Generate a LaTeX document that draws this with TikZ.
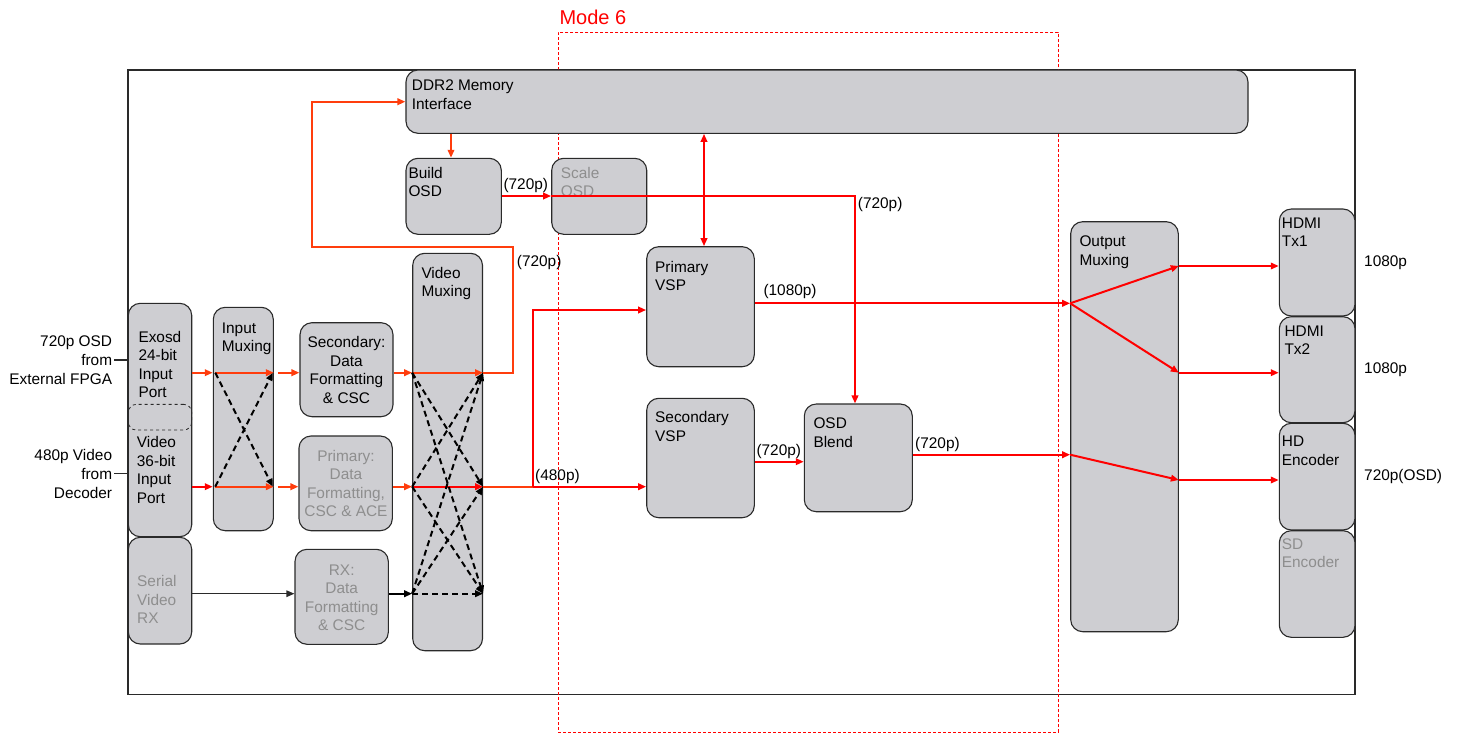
\documentclass[tikz,border=0pt]{standalone}
\usepackage{fontspec}
\setmainfont{Liberation Sans}
\usetikzlibrary{arrows.meta,calc}
\definecolor{boxfill}{HTML}{CECED2}
\definecolor{gtext}{HTML}{8E8E8E}
\definecolor{orng}{HTML}{FF3D0D}
\definecolor{rd}{HTML}{FF0000}
\definecolor{edgec}{HTML}{2A2A2A}
\newcommand\fs{\fontsize{15.4}{18.6}\selectfont}
\newcommand\blk[6][]{\node[box,#1,minimum width={#4-#2},minimum height={#5-#3}] (#6) at ({(#2+#4)/2},{(#3+#5)/2}) {};}
\tikzset{
  box/.style={draw=edgec,line width=1.1pt,fill=boxfill,rounded corners=12pt,inner sep=0pt},
  txt/.style={font=\fs,align=left,inner sep=0pt,anchor=base west},
  ctxt/.style={font=\fs,align=center,inner sep=0pt,anchor=base},
  gray/.style={text=gtext},
  rl/.style={draw=rd,line width=2pt},
  ol/.style={draw=orng,line width=2pt},
  dl/.style={draw=black,line width=2pt,dash pattern=on 6pt off 4pt},
  tip/.style={-{Triangle[length=8pt,width=6.5pt]}},
  tips/.style={{Triangle[length=8pt,width=6.5pt]}-{Triangle[length=8pt,width=6.5pt]}},
}
\begin{document}
\begin{tikzpicture}[x=1pt,y=-1pt]
\useasboundingbox (0,0) rectangle (1457,734);
% outer frame and mode 6
\node[draw=edgec,line width=1.3pt,minimum width=1227pt,minimum height=624.5pt,inner sep=0pt] (frame) at (741.5,382.3) {};
\node[draw=rd,line width=1.1pt,dash pattern=on 3pt off 2pt,minimum width=500pt,minimum height=700pt,inner sep=0pt] (mode) at (808.3,382.3) {};
\node[font=\fontsize{20}{24}\selectfont,text=rd,inner sep=0pt,anchor=base west] (modelbl) at (559.3,24) {Mode 6};
% row coordinates
\coordinate (rA) at (0,372.7);
\coordinate (rB) at (0,486.7);
\coordinate (rC) at (0,593.7);
% boxes
\blk{406}{70}{1248}{133.3}{ddr}
\blk{406}{158.3}{501.3}{234.3}{build}
\blk{551.7}{158.3}{646.7}{234.3}{scale}
\blk{128.3}{303.3}{191.7}{536.7}{ports}
\node[draw=edgec,line width=0.8pt,dashed,rounded corners=8pt,minimum width=63.4pt,minimum height=25.7pt,inner sep=0pt] (overlap) at (160,417.2) {};
\blk{128.3}{537.3}{191.7}{644}{serial}
\blk{213.3}{307.3}{273.3}{530.7}{imux}
\blk{300}{322.7}{393}{416.7}{sec}
\blk{299}{436}{392.3}{530.7}{prim}
\blk{295}{549.3}{388.3}{644.3}{rx}
\blk{412.7}{253.3}{482.5}{650.7}{vmux}
\blk{646.7}{246.7}{754.3}{366.7}{pvsp}
\blk{646.7}{398.3}{754.3}{517.7}{svsp}
\blk{804.3}{404}{912.3}{511.7}{blend}
\blk{1070.7}{221.7}{1178.3}{631.7}{omux}
\blk{1279.3}{209}{1355}{316}{tx1}
\blk{1279.3}{316.7}{1355}{422.7}{tx2}
\blk{1279.3}{423.3}{1355}{530}{hde}
\blk{1279.3}{530.7}{1355}{637.3}{sde}
% box texts (anchored at baseline of last line)
\node[txt] (tddr) at (411.7,109.3) {DDR2 Memory\\Interface};
\node[txt] (tbuild) at (408.3,196.9) {Build\\OSD};
\node[txt,gray] (tscale) at (560.7,196.9) {Scale\\OSD};
\node[txt] (texo) at (138.3,397.8) {Exosd\\24-bit\\Input\\Port};
\node[txt] (tvid) at (136.7,503.5) {Video\\36-bit\\Input\\Port};
\node[txt,gray] (tser) at (137,623.9) {Serial\\Video\\RX};
\node[txt] (timux) at (221.7,351.9) {Input\\Muxing};
\node[ctxt] (tsec) at (346.5,403.5) {Secondary:\\Data\\Formatting\\\& CSC};
\node[ctxt,gray] (tprim) at (346,516.8) {Primary:\\Data\\Formatting,\\CSC \& ACE};
\node[ctxt,gray] (trx) at (341.7,630.8) {RX:\\Data\\Formatting\\\& CSC};
\node[txt] (tvmux) at (421.3,296.9) {Video\\Muxing};
\node[txt] (tpvsp) at (655,290.9) {Primary\\VSP};
\node[txt] (tsvsp) at (655,441.3) {Secondary\\VSP};
\node[txt] (tblend) at (813.3,447) {OSD\\Blend};
\node[txt] (tomux) at (1079.3,265.3) {Output\\Muxing};
\node[txt] (ttx1) at (1281.7,246.9) {HDMI\\Tx1};
\node[txt] (ttx2) at (1284.3,354.6) {HDMI\\Tx2};
\node[txt] (thde) at (1281.7,465.3) {HD\\Encoder};
\node[txt,gray] (tsde) at (1281.7,567.9) {SD\\Encoder};
% outside labels
\node[font=\fs,align=right,inner sep=0pt,anchor=base east] (inA) at (112.3,384) {720p OSD\\from\\External FPGA};
\node[font=\fs,align=right,inner sep=0pt,anchor=base east] (inB) at (112.3,498) {480p Video\\from\\Decoder};
\coordinate (cA) at (114,360);
\coordinate (cB) at (114,473.5);
\draw[edgec,line width=1.1pt] (cA) -- (cA -| ports.west);
\draw[edgec,line width=1.1pt] (cB) -- (cB -| ports.west);
\node[txt] (o1) at (1364,266.5) {1080p};
\node[txt] (o2) at (1364,373) {1080p};
\node[txt] (o3) at (1364,480) {720p(OSD)};
% left section connectors
\draw[ol,tip] (ports.east |- rA) -- (imux.west |- rA);
\draw[rl,tip] (ports.east |- rB) -- (imux.west |- rB);
\draw[ol,tip] ($(imux.west |- rA)+(2.5,0)$) -- (imux.east |- rA);
\draw[ol,tip] ($(imux.west |- rB)+(2.5,0)$) -- (imux.east |- rB);
\draw[dl,tip] ($(imux.west |- rA)+(2.5,0)$) -- ($(imux.east |- rB)+(-1,0)$);
\draw[dl,tip] ($(imux.west |- rB)+(2.5,0)$) -- ($(imux.east |- rA)+(-1,0)$);
\draw[ol,tip] ($(imux.east |- rA)+(4,0)$) -- (sec.west |- rA);
\draw[ol,tip] ($(imux.east |- rB)+(4,0)$) -- (prim.west |- rB);
\draw[edgec,line width=1.3pt,tip] (serial.east |- rC) -- (rx.west |- rC);
\draw[ol,tip] (sec.east |- rA) -- (vmux.west |- rA);
\draw[ol,tip] (prim.east |- rB) -- (vmux.west |- rB);
\draw[black,line width=2pt,tip] (rx.east |- rC) -- (vmux.west |- rC);
% video muxing internals
\draw[ol,tip] (vmux.west |- rA) -- (vmux.east |- rA);
\draw[rl,tip] (vmux.west |- rB) -- (vmux.east |- rB);
\draw[dl,tip] (vmux.west |- rC) -- (vmux.east |- rC);
\draw[dl,tip] (vmux.west |- rA) -- (vmux.east |- rB);
\draw[dl,tip] (vmux.west |- rA) -- (vmux.east |- rC);
\draw[dl,tip] (vmux.west |- rB) -- (vmux.east |- rA);
\draw[dl,tip] (vmux.west |- rB) -- (vmux.east |- rC);
\draw[dl,tip] (vmux.west |- rC) -- (vmux.east |- rA);
\draw[dl,tip] (vmux.west |- rC) -- (vmux.east |- rB);
% loop to DDR2
\coordinate (lp1) at (513.3,372.7);
\coordinate (lp2) at (513.3,246.7);
\coordinate (lp3) at (311.7,246.7);
\coordinate (lp4) at (311.7,101.7);
\draw[ol,tip] (vmux.east |- rA) -- (lp1) -- (lp2) -- (lp3) -- (lp4) -- (ddr.west |- lp4);
\node[txt] (l720a) at (516.7,266) {(720p)};
% 480p
\coordinate (br1) at (532.7,486.7);
\coordinate (br2) at (532.7,310);
\draw[ol] (vmux.east |- rB) -- (br1);
\draw[rl,tip] (br1) -- (svsp.west |- rB);
\draw[rl,tip] (br1) -- (br2) -- (pvsp.west |- br2);
\node[txt] (l480) at (535,480.7) {(480p)};
% DDR2 -> Build OSD
\coordinate (db) at (451,0);
\draw[ol,tip] (db |- ddr.south) -- (db |- build.north);
% Build -> Scale -> Blend
\coordinate (bs) at (0,196);
\coordinate (vx) at (855,196);
\draw[rl,tip] (build.east |- bs) -- (scale.west |- bs);
\draw[rl,tip] (scale.west |- bs) -- (vx) -- (vx |- blend.north);
\node[txt] (l720b) at (503.3,189.3) {(720p)};
\node[txt] (l720c) at (857.7,208) {(720p)};
% DDR2 <-> Primary VSP
\coordinate (dx) at (704,0);
\draw[rl,tips] (dx |- ddr.south) -- (dx |- pvsp.north);
% VSP outputs
\coordinate (rP) at (0,303.3);
\coordinate (rS) at (0,461.7);
\coordinate (rO) at (0,454.7);
\draw[rl,tip] (pvsp.east |- rP) -- (omux.west |- rP);
\node[txt] (l1080) at (763.3,295.7) {(1080p)};
\draw[rl,tip] (svsp.east |- rS) -- (blend.west |- rS);
\node[txt] (l720d) at (756.3,455) {(720p)};
\draw[rl,tip] (blend.east |- rO) -- (omux.west |- rO);
\node[txt] (l720e) at (915,448) {(720p)};
% output muxing
\coordinate (q1) at (0,266);
\coordinate (q2) at (0,372.7);
\coordinate (q3) at (0,480);
\draw[rl,tip] (omux.west |- rP) -- (omux.east |- q1);
\draw[rl,tip] (omux.west |- rP) -- (omux.east |- q2);
\draw[rl,tip] (omux.west |- rO) -- (omux.east |- q3);
\draw[rl,tip] (omux.east |- q1) -- (tx1.west |- q1);
\draw[rl,tip] (omux.east |- q2) -- (tx2.west |- q2);
\draw[rl,tip] (omux.east |- q3) -- (hde.west |- q3);
\end{tikzpicture}
\end{document}
